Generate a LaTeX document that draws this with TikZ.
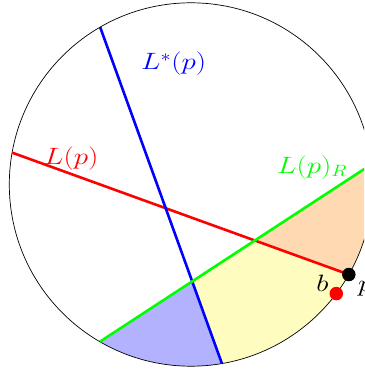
\documentclass[tikz,border=0pt]{standalone}
\usepackage{graphicx}
\usepackage{tikz}
\newcommand{\wide}[1]{\scalebox{1.4}[1.14]{#1}}
\begin{document}
\begin{tikzpicture}[x=1pt,y=1pt,
  chord/.style={line width=2.6pt},
  lbl/.style={inner sep=0pt, anchor=base west, font=\huge},
  dotp/.style={circle, fill, inner sep=0pt, minimum size=13.5pt}]
\clip (-191,-186.5) rectangle (173,184.5);
\def\R{181.7pt}
\coordinate (O) at (0,0);
\coordinate (BT) at (120:\R);
\coordinate (BB) at (-80.2:\R);
\coordinate (RL) at (169.9:\R);
\coordinate (P) at (-29.7:\R);
\coordinate (GL) at (-120.1:\R);
\coordinate (GU) at (6.4:\R);
\coordinate (B) at (-36.9:\R);
\coordinate (XBG) at (intersection of BT--BB and GL--GU);
\coordinate (XRG) at (intersection of RL--P and GL--GU);
% regions
\fill[blue!30] (GL) -- (XBG) -- (BB) arc[start angle=-80.2, end angle=-120.1, radius=\R] -- cycle;
\fill[yellow!25] (XBG) -- (XRG) -- (P) arc[start angle=-29.7, end angle=-80.2, radius=\R] -- cycle;
\fill[orange!30] (XRG) -- (GU) arc[start angle=6.4, end angle=-29.7, radius=\R] -- cycle;
% circle
\draw[line width=0.7pt] (O) circle[radius=\R];
% chords
\draw[chord, red] (RL) -- (P);
\draw[chord, blue] (BT) -- (BB);
\draw[chord, green] (GL) -- (GU);
% points
\node[dotp, black] (p) at (P) {};
\node[dotp, red] (b) at (B) {};
% labels
\node[lbl, blue] (lstar) at (-50,114.5) {\wide{$L^*(p)$}};
\node[lbl, red] (lp) at (-147,20.2) {\wide{$L(p)$}};
\node[lbl, green] (lpr) at (86,11.2) {\wide{$L(p)_R$}};
\node[lbl] (bl) at (125.2,-107.2) {\wide{$b$}};
\node[lbl] (pl) at (167,-107.2) {\wide{$p$}};
\end{tikzpicture}
\end{document}
